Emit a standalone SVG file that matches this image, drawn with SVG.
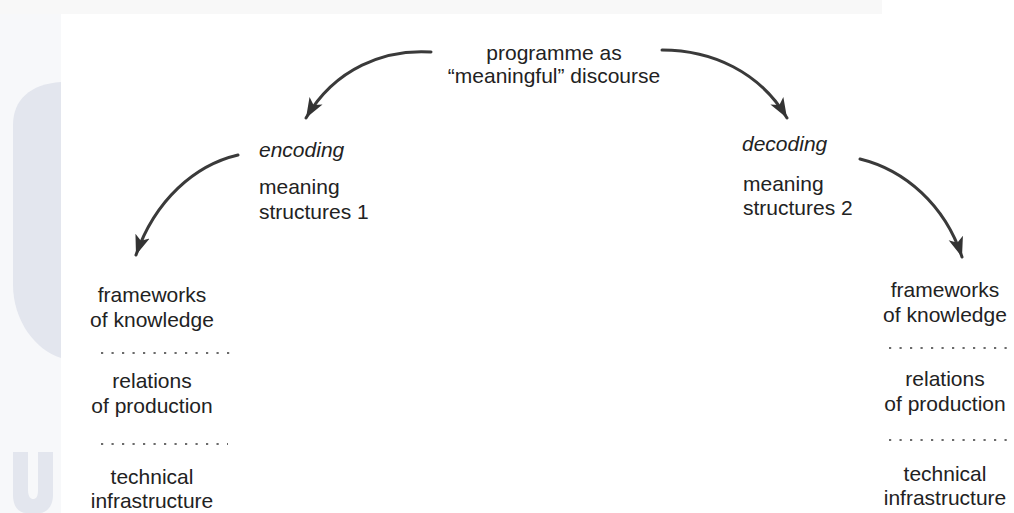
<svg xmlns="http://www.w3.org/2000/svg" width="1014" height="513" viewBox="0 0 1014 513">
<defs>
<style>
.t{font-family:"Liberation Sans",Arial,sans-serif;font-size:21px;fill:#222}
.i{font-style:italic}
.c{text-anchor:middle}
.arc{fill:none;stroke:#3a3a3a;stroke-width:3;stroke-linecap:round}
.dots{stroke:#6a6a6a;stroke-width:2.2;stroke-dasharray:2.2 8.3}
</style>
<marker id="ah" markerUnits="userSpaceOnUse" markerWidth="22" markerHeight="18" viewBox="0 0 22 18" refX="20" refY="9" orient="auto">
<path d="M0,1.5 L20,9 L0,16.5 L5,9 Z" fill="#333"/>
</marker>
</defs>
<g id="background">
<rect x="0" y="0" width="1014" height="513" fill="#ffffff"/>
<rect x="0" y="0" width="882" height="14" fill="#f8f8f8"/>
<rect x="0" y="14" width="61" height="499" fill="#f7f8fa"/>
<path d="M61,82 C30,84 13,100 13,125 L13,285 C13,320 35,350 61,358 Z" fill="#e3e6ee"/>
<path d="M13,452 L28,452 L28,490 C28,497 31,499 33,499 C36,499 38,497 38,490 L38,452 L53,452 L53,495 C53,508 45,513 40,513 L26,513 C20,513 13,508 13,495 Z" fill="#e3e6ee"/>
</g>
<g id="connectors">
<path class="arc" d="M431,52 C385,49 335,68 306,118" marker-end="url(#ah)"/>
<path class="arc" d="M662,50 C712,50 760,72 787,118" marker-end="url(#ah)"/>
<path class="arc" d="M238,155 C195,165 155,200 136,255" marker-end="url(#ah)"/>
<path class="arc" d="M860,159 C905,170 945,205 962,257" marker-end="url(#ah)"/>
</g>
<g id="programme">
<text class="t c" x="554" y="60">programme as</text>
<text class="t c" x="554" y="83">“meaningful” discourse</text>
</g>
<g id="encoding">
<text class="t i" x="259" y="157">encoding</text>
<text class="t" x="259" y="194">meaning</text>
<text class="t" x="259" y="219">structures 1</text>
</g>
<g id="decoding">
<text class="t i" x="742" y="151">decoding</text>
<text class="t" x="743" y="191">meaning</text>
<text class="t" x="743" y="215">structures 2</text>
</g>
<g id="left-structures">
<text class="t c" x="152" y="302">frameworks</text>
<text class="t c" x="152" y="327">of knowledge</text>
<line class="dots" x1="101" y1="353" x2="230" y2="353"/>
<text class="t c" x="152" y="388">relations</text>
<text class="t c" x="152" y="413">of production</text>
<line class="dots" x1="101" y1="444" x2="228" y2="444"/>
<text class="t c" x="152" y="484">technical</text>
<text class="t c" x="152" y="508">infrastructure</text>
</g>
<g id="right-structures">
<text class="t c" x="945" y="297">frameworks</text>
<text class="t c" x="945" y="322">of knowledge</text>
<line class="dots" x1="889" y1="348" x2="1011" y2="348"/>
<text class="t c" x="945" y="386">relations</text>
<text class="t c" x="945" y="411">of production</text>
<line class="dots" x1="889" y1="440" x2="1011" y2="440"/>
<text class="t c" x="945" y="481">technical</text>
<text class="t c" x="945" y="505">infrastructure</text>
</g>
</svg>
